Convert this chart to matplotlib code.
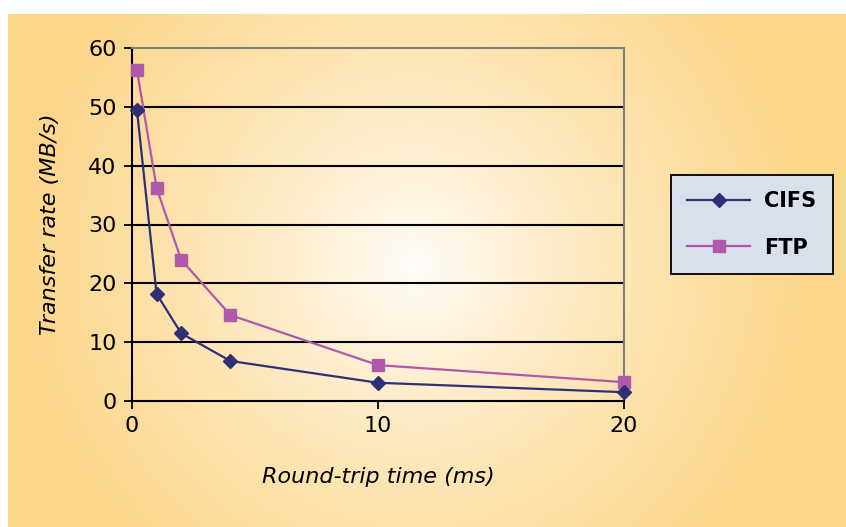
import matplotlib.pyplot as plt
import numpy as np

# Дані
rtt = [0.2, 1, 2, 4, 10, 20]
cifs = [49.5, 18.2, 11.5, 6.8, 3.1, 1.5]
ftp = [56.3, 36.2, 24.0, 14.6, 6.1, 3.2]
y_ticks = [0, 10, 20, 30, 40, 50, 60]
x_ticks = [0, 10, 20]

W, H = 846, 527
fig = plt.figure(figsize=(W / 100, H / 100), dpi=100, facecolor='white')

# Радіальний градієнтний фон
bg = fig.add_axes([8 / W, 0, 838 / W, 513 / H])
bg.set_axis_off()
gx, gy = np.meshgrid(np.arange(838), np.arange(513))
r = np.hypot(gx - 405, gy - 250) / 400
t = np.clip(r, 0, 1) ** 0.75
white = np.array([1.0, 1.0, 1.0])
orange = np.array([0.99, 0.84, 0.54])
img = white * (1 - t[..., None]) + orange * t[..., None]
bg.imshow(img, aspect='auto', extent=[0, 1, 0, 1], origin='upper')
bg.set_xlim(0, 1)
bg.set_ylim(0, 1)

ax = fig.add_axes([132 / W, 1 - 401 / H, 492 / W, 353 / H])
ax.set_facecolor('none')

ax.plot(rtt, cifs, color='#2f2f78', lw=1.6, marker='D', ms=7, label='CIFS', zorder=5, clip_on=False)
ax.plot(rtt, ftp, color='#b058aa', lw=1.6, marker='s', ms=9, label='FTP', zorder=4, clip_on=False)

ax.set_xlim(0, 20)
ax.set_ylim(0, 60)
ax.set_xticks(x_ticks)
ax.set_yticks(y_ticks)
for v in y_ticks[1:-1]:
    ax.axhline(v, color='black', lw=1.5, zorder=1)

for s in ['left', 'bottom']:
    ax.spines[s].set_color('black')
    ax.spines[s].set_linewidth(1.5)
for s in ['top', 'right']:
    ax.spines[s].set_color('#808080')
    ax.spines[s].set_linewidth(1.5)

ax.tick_params(axis='both', direction='out', length=6, width=1.3, labelsize=16, pad=5)

ax.set_xlabel('Round-trip time (ms)', fontsize=16, style='italic', labelpad=22)
ax.set_ylabel('Transfer rate (MB/s)', fontsize=16, style='italic', labelpad=20)

leg = ax.legend(loc='center left', bbox_to_anchor=(1.095, 0.50), frameon=True, fancybox=False,
                edgecolor='black', facecolor='#d8e0ec', framealpha=1,
                prop={'weight': 'bold', 'size': 15}, handlelength=3.0, borderpad=0.8,
                labelspacing=1.25, handletextpad=0.7, borderaxespad=0)
leg.get_frame().set_linewidth(1.3)

fig.savefig('out.png', dpi=100)
